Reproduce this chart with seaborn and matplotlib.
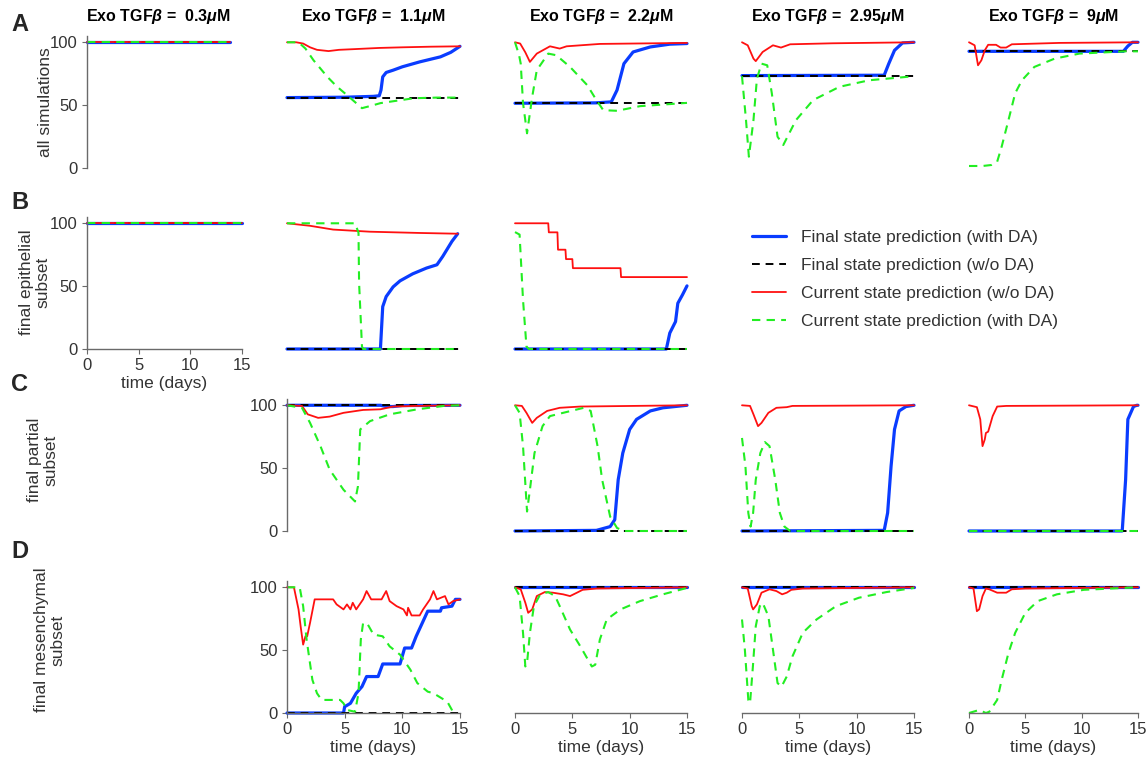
import numpy as np
import pandas as pd
import matplotlib
matplotlib.use("Agg")
import matplotlib.pyplot as plt
import seaborn as sns

# ---------------- data (time in days, value in %) ----------------
concentrations = ["0.3", "1.1", "2.2", "2.95", "9"]
row_labels = ["all simulations", "final epithelial\nsubset", "final partial\nsubset", "final mesenchymal\nsubset"]
panel_letters = ["A", "B", "C", "D"]
series_names = ["Final state prediction (with DA)", "Final state prediction (w/o DA)",
                "Current state prediction (w/o DA)", "Current state prediction (with DA)"]

# Row A : all simulations
A0_blue = [(0, 100), (15, 100)]
A0_black = [(0, 100), (15, 100)]
A0_red = [(0, 100), (15, 100)]
A0_green = [(0, 100), (15, 100)]

A1_blue = [(0, 56), (5, 56.3), (7.5, 57), (8.0, 57.5), (8.15, 62), (8.3, 72.5), (8.6, 76), (9.2, 77.8),
           (10, 80.5), (11.5, 84.4), (13.3, 88.4), (14.2, 92), (15, 96.8)]
A1_black = [(0, 56), (15, 56)]
A1_red = [(0, 100), (0.8, 100), (1.4, 99), (2.0, 96), (2.6, 94), (3.6, 93), (4.5, 94), (5.7, 94.5),
          (8, 95.5), (10, 96), (12.5, 96.5), (15, 96.8)]
A1_green = [(0, 100), (1.0, 100), (1.6, 95), (2.3, 85.7), (3.5, 72.5), (4.3, 65), (5.2, 58), (6.5, 47.6),
            (7.3, 49.5), (8.1, 51.6), (9.5, 53.5), (11, 55.5), (13, 56), (15, 56)]

A2_blue = [(0, 51.5), (7, 51.8), (8.4, 52.6), (8.9, 62), (9.5, 83), (10.3, 92.3), (11.8, 96.3),
           (13.5, 98.5), (15, 99)]
A2_black = [(0, 51.5), (15, 51.5)]
A2_red = [(0, 100), (0.45, 99), (0.9, 92), (1.3, 84.4), (1.9, 91), (3.05, 96.8), (3.9, 95), (4.5, 96.8),
          (7.4, 98.7), (15, 99.5)]
A2_green = [(0, 100), (0.35, 90), (0.5, 83), (0.7, 51.6), (1.05, 27.6), (1.5, 56.6), (1.9, 77.8),
            (2.9, 91), (3.6, 89.7), (4.8, 80.4), (6.3, 65.9), (7.1, 54), (7.7, 46), (8.9, 45.5),
            (10.9, 49.2), (15, 51.8)]

A3_blue = [(0, 73.5), (12.4, 73.8), (12.8, 83), (13.3, 93.6), (14, 99.5), (15, 100)]
A3_black = [(0, 73.5), (15, 73.5)]
A3_red = [(0, 100), (0.5, 97.6), (1.0, 87), (1.2, 85), (1.8, 92.3), (2.7, 97.6), (3.4, 95.8), (4.2, 98.4),
          (7.9, 99.2), (15, 100)]
A3_green = [(0, 73), (0.35, 38), (0.6, 9), (1.0, 38), (1.3, 71), (1.7, 83), (2.2, 81.7), (2.6, 59.5),
            (3.1, 24.9), (3.6, 18.3), (4.7, 38), (6.2, 54), (8.5, 64.6), (11.1, 69.8), (15, 73)]

A4_blue = [(0, 92.8), (13.7, 92.8), (14.1, 97), (14.5, 100), (15, 100)]
A4_black = [(0, 92.8), (15, 92.8)]
A4_red = [(0, 100), (0.5, 97.6), (0.8, 81.7), (1.1, 85.7), (1.4, 93.6), (1.7, 98), (2.4, 98), (2.8, 95.8),
          (3.3, 95.8), (3.8, 98.4), (8, 99.5), (15, 100)]
A4_green = [(0, 1.6), (1.2, 1.6), (2.0, 2.4), (2.5, 5), (2.9, 17), (3.5, 38), (4.1, 59.5), (4.7, 69.8),
            (5.8, 80.4), (7.6, 87), (9.8, 91), (13.9, 92.8), (15, 92.8)]

# Row B : final epithelial subset
B0_blue = [(0, 100), (15, 100)]
B0_black = [(0, 100), (15, 100)]
B0_red = [(0, 100), (15, 100)]
B0_green = [(0, 100), (15, 100)]

B1_blue = [(0, 0), (8.1, 0), (8.3, 33.7), (8.6, 41.7), (9.2, 49.4), (9.8, 54.2), (10.9, 59.8),
           (12.1, 64.4), (13, 67), (13.5, 73.6), (14.3, 85.6), (14.8, 91.7)]
B1_black = [(0, 0), (15, 0)]
B1_red = [(0, 100), (2, 98), (4, 95), (7.2, 93.3), (11.5, 92.3), (14.8, 91.7)]
B1_green = [(0, 100), (5.9, 100), (6.2, 92.5), (6.25, 52.6), (6.5, 2), (6.6, 0), (15, 0)]

B2_blue = [(0, 0), (13.2, 0), (13.5, 12.7), (14, 21.8), (14.2, 36.4), (14.6, 43), (15, 50.2)]
B2_black = [(0, 0), (15, 0)]
B2_red = [(0, 100), (2.9, 100), (2.95, 92.8), (3.7, 92.8), (3.75, 79), (4.4, 79), (4.45, 71.5),
          (5.0, 71.5), (5.05, 64.3), (9.2, 64.3), (9.25, 57.2), (15, 57.2)]
B2_green = [(0, 93), (0.4, 91), (0.7, 39), (1.0, 2), (1.2, 0), (15, 0)]

# Row C : final partial subset
C1_blue = [(0, 100), (8.1, 100), (8.6, 99), (9.2, 99), (10, 99.8), (15, 100)]
C1_black = [(0, 100), (15, 100)]
C1_red = [(0, 100), (1.3, 99.5), (1.8, 92.8), (2.7, 90), (3.7, 91), (4.9, 94), (6.6, 96.3), (8.1, 96.8),
          (9.2, 99), (11.3, 99.5), (15, 100)]
C1_green = [(0, 100), (1.3, 98), (2.0, 86), (2.9, 67.5), (3.7, 48.8), (4.9, 32.8), (5.9, 23.5),
            (6.15, 35.5), (6.35, 80.8), (7.2, 87.4), (8.9, 92.8), (11.3, 96.8), (13.6, 99.5), (15, 100)]

C2_blue = [(0, 0), (7.1, 0.5), (8.3, 3.5), (8.7, 9), (9.0, 40.8), (9.4, 62), (10, 80.8), (10.6, 88.8),
           (11.8, 95.5), (12.9, 98), (15, 100)]
C2_black = [(0, 0), (15, 0)]
C2_red = [(0, 100), (0.6, 99.5), (1.0, 94), (1.5, 86), (1.9, 90), (2.8, 95.5), (3.9, 98), (5.7, 99),
          (15, 100)]
C2_green = [(0, 100), (0.4, 94), (0.7, 67.5), (1.05, 15.5), (1.3, 32.8), (1.7, 62), (2.4, 83.4),
            (3.05, 91.4), (4.2, 94), (6.0, 98), (6.6, 95.5), (7.2, 67.5), (7.6, 40.8), (8.3, 11.4),
            (8.9, 2.4), (9.5, 0), (15, 0)]

C3_blue = [(0, 0), (12.4, 0.5), (12.7, 14.4), (13.0, 51.5), (13.3, 80.8), (13.7, 95.5), (14.3, 99),
           (15, 100)]
C3_black = [(0, 0), (15, 0)]
C3_red = [(0, 100), (0.7, 99.5), (1.0, 92.8), (1.4, 83.4), (1.7, 86), (2.3, 94), (3.0, 98), (3.9, 98.5),
          (4.4, 99.5), (15, 100)]
C3_green = [(0, 74), (0.3, 51.5), (0.55, 14.4), (0.75, 3.5), (0.97, 14.4), (1.2, 40.8), (1.6, 62),
            (2.0, 70.7), (2.4, 67.5), (2.9, 40.8), (3.3, 14.4), (3.7, 3.5), (4.2, 0), (15, 0)]

C4_blue = [(0, 0), (13.6, 0), (13.9, 40.8), (14.1, 88.8), (14.6, 99), (14.9, 100), (15, 100)]
C4_black = [(0, 0), (15, 0)]
C4_red = [(0, 100), (0.7, 98.5), (1.0, 88.8), (1.2, 67.5), (1.4, 72.8), (1.5, 78), (1.7, 79), (2.1, 91.4),
          (2.5, 99), (3.3, 99.5), (15, 100)]
C4_green = [(0, 0), (15, 0)]

# Row D : final mesenchymal subset
D1_blue = [(0, 0), (4.9, 0), (5.0, 5), (5.5, 7.7), (6.0, 15.7), (6.5, 21), (6.9, 29), (7.9, 29), (8.3, 39),
           (9.8, 39), (10.2, 51.7), (10.8, 51.7), (11.2, 61), (11.8, 73), (12.2, 81), (13.3, 81),
           (13.4, 83.7), (14.3, 85), (14.6, 90.4), (15, 90.4)]
D1_black = [(0, 0), (15, 0)]
D1_red = [(0, 100), (0.6, 100), (1.0, 82.4), (1.2, 67.7), (1.4, 54.4), (1.6, 61), (1.75, 61), (2.0, 71.8),
          (2.4, 90.4), (4.0, 90.4), (4.3, 86.4), (4.9, 82.4), (5.2, 86.4), (5.5, 82.4), (5.7, 87.7),
          (6.0, 82.4), (6.6, 90.4), (6.9, 97), (7.3, 90.4), (8.2, 90.4), (8.6, 97), (8.9, 89), (9.5, 85),
          (10.1, 82.4), (10.4, 77.6), (10.5, 83.7), (10.8, 77.6), (11.5, 77.6), (11.8, 82.4), (12.4, 90.4),
          (12.7, 97), (13.0, 90.4), (13.7, 93), (14.0, 86.4), (14.4, 89), (15, 90.4)]
D1_green = [(0, 100), (1.1, 100), (1.4, 85), (1.7, 58.4), (2.2, 26.4), (2.6, 15.7), (3.0, 10.4),
            (4.6, 10.4), (4.9, 7.7), (5.2, 2.4), (5.9, 1), (6.2, 15.7), (6.4, 58.4), (6.6, 71.8),
            (7.0, 70.5), (7.5, 62.4), (8.3, 61), (8.9, 53), (9.8, 46.4), (10.7, 34.4), (11.3, 23.8),
            (12.2, 17), (12.7, 15.7), (13.9, 9), (14.3, 2.4), (14.4, 0)]

D2_blue = [(0, 100), (15, 100)]
D2_black = [(0, 100), (15, 100)]
D2_red = [(0, 100), (0.5, 98.4), (0.9, 87.7), (1.15, 79.7), (1.5, 82.4), (1.9, 93), (2.6, 96.2),
          (3.3, 95.7), (4.2, 94.4), (4.8, 93), (5.4, 95.7), (5.9, 98), (7.1, 99), (15, 100)]
D2_green = [(0, 100), (0.4, 93), (0.7, 63.7), (0.9, 37), (1.05, 39.7), (1.3, 63.7), (1.65, 85),
            (2.2, 94.4), (2.9, 96.2), (3.5, 93), (3.9, 85), (4.8, 66.4), (5.7, 53), (6.7, 37), (7.0, 38.4),
            (7.4, 58.4), (8.0, 74.4), (9.2, 82.4), (10.9, 89), (12.9, 94.4), (15, 99.5)]

D3_blue = [(0, 100), (15, 100)]
D3_black = [(0, 100), (15, 100)]
D3_red = [(0, 100), (0.5, 99), (0.85, 85), (0.97, 82.4), (1.3, 86.4), (1.7, 95.7), (2.4, 98.4),
          (3.0, 97), (3.5, 94.4), (3.9, 95.7), (4.3, 98), (5.3, 99), (15, 100)]
D3_green = [(0, 74.4), (0.25, 50.4), (0.55, 10.4), (0.7, 7.7), (0.95, 37), (1.2, 69), (1.55, 85),
            (1.8, 87.7), (2.3, 77), (2.7, 50.4), (3.1, 23.8), (3.45, 21), (3.9, 29), (4.4, 45), (5.3, 63.8),
            (6.5, 74.4), (8.2, 85), (10.2, 91.7), (12.6, 96.2), (15, 99.5)]

D4_blue = [(0, 100), (15, 100)]
D4_black = [(0, 100), (15, 100)]
D4_red = [(0, 100), (0.4, 99), (0.7, 81), (0.9, 82.4), (1.2, 93), (1.5, 99), (1.8, 98.4), (2.5, 95.7),
          (3.3, 95.7), (3.8, 98.4), (5.0, 99), (15, 100)]
D4_green = [(0, 0), (0.9, 2.4), (1.5, 0), (1.8, 1), (2.5, 10.4), (2.9, 26.4), (3.5, 47.7), (4.1, 63.8),
            (5.0, 79.7), (6.1, 89), (7.8, 94.4), (10.2, 98), (15, 100)]

panels = {
    "A0": (A0_blue, A0_black, A0_red, A0_green), "A1": (A1_blue, A1_black, A1_red, A1_green),
    "A2": (A2_blue, A2_black, A2_red, A2_green), "A3": (A3_blue, A3_black, A3_red, A3_green),
    "A4": (A4_blue, A4_black, A4_red, A4_green),
    "B0": (B0_blue, B0_black, B0_red, B0_green), "B1": (B1_blue, B1_black, B1_red, B1_green),
    "B2": (B2_blue, B2_black, B2_red, B2_green),
    "C1": (C1_blue, C1_black, C1_red, C1_green), "C2": (C2_blue, C2_black, C2_red, C2_green),
    "C3": (C3_blue, C3_black, C3_red, C3_green), "C4": (C4_blue, C4_black, C4_red, C4_green),
    "D1": (D1_blue, D1_black, D1_red, D1_green), "D2": (D2_blue, D2_black, D2_red, D2_green),
    "D3": (D3_blue, D3_black, D3_red, D3_green), "D4": (D4_blue, D4_black, D4_red, D4_green),
}

records = []
for key, curves in panels.items():
    for name, pts in zip(series_names, curves):
        for t, v in pts:
            records.append({"panel": key, "series": name, "t": t, "v": v})
df = pd.DataFrame(records)

# ---------------- styling ----------------
sns.set_theme(style="ticks")
plt.rcParams["font.family"] = ["Liberation Sans", "DejaVu Sans"]
plt.rcParams["mathtext.fontset"] = "custom"
plt.rcParams["mathtext.rm"] = "Liberation Sans:bold"
plt.rcParams["mathtext.it"] = "Liberation Sans:italic:bold"
plt.rcParams["mathtext.bf"] = "Liberation Sans:bold"

styles = {
    series_names[0]: dict(color="#0a3cff", linewidth=2.3, linestyle="-"),
    series_names[1]: dict(color="#000000", linewidth=1.4, linestyle=(0, (4, 3))),
    series_names[2]: dict(color="#ff1010", linewidth=1.3, linestyle="-"),
    series_names[3]: dict(color="#22ee22", linewidth=1.5, linestyle=(0, (4, 3))),
}

W, H = 1148, 757
fig = plt.figure(figsize=(W / 100, H / 100), dpi=100)

col_px = {0: (87, 242), 1: (287, 460), 2: (515, 687), 3: (742, 914), 4: (969, 1138)}
row_px = {"A": (36, 168), "B": (217, 349), "C": (399, 531), "D": (581, 713)}
spine_col = "#6a6a6a"
text_col = "#333333"

axes = {}
for key in panels:
    r, c = key[0], int(key[1])
    x0, x1 = col_px[c]
    if key == "A0":
        x1 = 230
    y0, y1 = row_px[r]
    ax = fig.add_axes([x0 / W, 1 - y1 / H, (x1 - x0) / W, (y1 - y0) / H])
    axes[key] = ax
    sub = df[df.panel == key]
    for name in series_names:
        s = sub[sub.series == name]
        sns.lineplot(data=s, x="t", y="v", ax=ax, estimator=None, sort=False, legend=False,
                     label=name, clip_on=False, **styles[name])
    ax.set_xlim(0, 15)
    ax.set_ylim(0, 105)
    ax.set_xlabel("")
    ax.set_ylabel("")
    show_left = key in ("A0", "B0", "C1", "D1")
    show_bottom = key in ("B0", "D1", "D2", "D3", "D4")
    for side in ("top", "right"):
        ax.spines[side].set_visible(False)
    ax.spines["left"].set_visible(show_left)
    ax.spines["bottom"].set_visible(show_bottom)
    for side in ("left", "bottom"):
        ax.spines[side].set_color(spine_col)
        ax.spines[side].set_linewidth(1.0)
    ax.set_facecolor("none")
    ax.tick_params(colors=spine_col, labelcolor=text_col, labelsize=12, length=3.5, width=0.8, pad=3)
    if show_left:
        ax.set_yticks([0, 50, 100])
    else:
        ax.set_yticks([])
    if show_bottom:
        ax.set_xticks([0, 5, 10, 15])
        ax.set_xlabel("time (days)", fontsize=12.5, color=text_col, labelpad=2)
    else:
        ax.set_xticks([])

# column titles
for c, conc in enumerate(concentrations):
    axes[f"A{c}"].set_title("Exo TGF$\\beta$ =  " + conc + "$\\mu$M", fontsize=11.5,
                            fontweight="bold", pad=11, color="black")

# panel letters
for letter, ytop in zip(panel_letters, [13, 191, 373, 540]):
    fig.text(11 / W, 1 - ytop / H, letter, fontsize=17, fontweight="bold", va="top", ha="left")

# row labels
for lab, (xc, yc) in zip(row_labels, [(45, 102), (35, 282), (43, 460), (50, 640)]):
    fig.text(xc / W, 1 - yc / H, lab, rotation=90, ha="center", va="center", multialignment="center",
             fontsize=12.5, color=text_col, linespacing=1.15)

# legend
handles = axes["D1"].get_lines()[:4]
fig.legend(handles, series_names, loc="upper left", bbox_to_anchor=(736 / W, 1 - 214 / H),
           frameon=False, fontsize=12.5, handlelength=2.0, handletextpad=0.85, labelspacing=0.75,
           labelcolor=text_col)

fig.savefig("out.png", dpi=100)
